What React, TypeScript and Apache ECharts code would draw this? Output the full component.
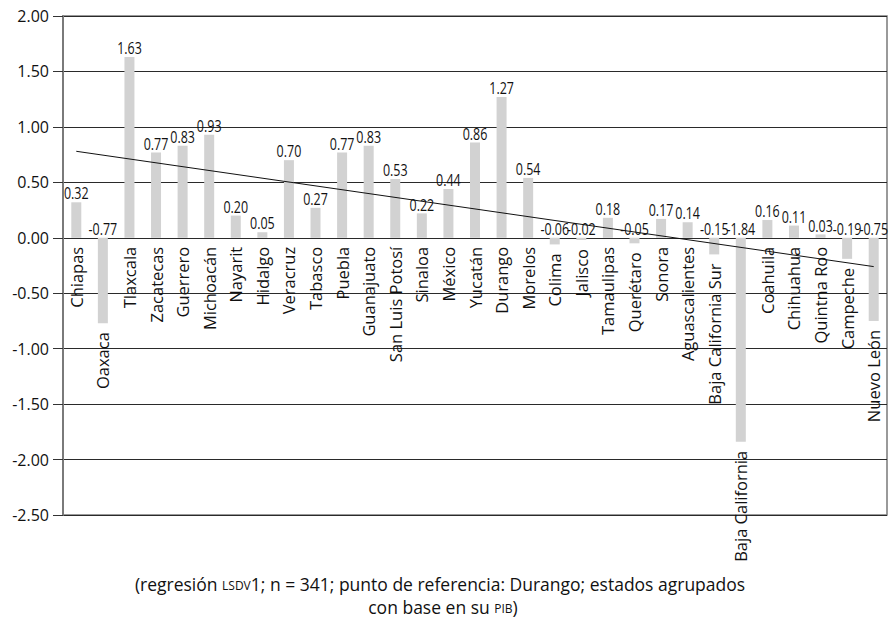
import React, { useEffect, useRef } from "react";
import * as echarts from "echarts";

const categories = [
  "Chiapas", "Oaxaca", "Tlaxcala", "Zacatecas", "Guerrero", "Michoacán", "Nayarit", "Hidalgo",
  "Veracruz", "Tabasco", "Puebla", "Guanajuato", "San Luis Potosí", "Sinaloa", "México", "Yucatán",
  "Durango", "Morelos", "Colima", "Jalisco", "Tamaulipas", "Querétaro", "Sonora", "Aguascalientes",
  "Baja California Sur", "Baja California", "Coahuila", "Chihuahua", "Quintna Roo", "Campeche", "Nuevo León",
];
const values = [
  0.32, -0.77, 1.63, 0.77, 0.83, 0.93, 0.2, 0.05, 0.7, 0.27, 0.77, 0.83, 0.53, 0.22, 0.44, 0.86,
  1.27, 0.54, -0.06, -0.02, 0.18, -0.05, 0.17, 0.14, -0.15, -1.84, 0.16, 0.11, 0.03, -0.19, -0.75,
];
const trendStart = 0.78;
const trendEnd = -0.26;
const yTicks = { min: -2.5, max: 2, interval: 0.5 };

export default function App() {
  const ref = useRef<HTMLDivElement>(null);
  useEffect(() => {
    document.body.style.margin = "0";
    const chart = echarts.init(ref.current!, null, { renderer: "svg" });
    const font = "'Open Sans', 'Noto Sans', sans-serif";
    const rich = {
      n: { fontSize: 17.5, fontFamily: font, fill: "#111", verticalAlign: "bottom" },
      sc: { fontSize: 12, fontFamily: font, fill: "#111", verticalAlign: "bottom", padding: [0, 0, 1.5, 0] },
    };
    chart.setOption({
      animation: false,
      grid: {
        left: 63, right: 3, top: 16, bottom: 103,
        show: true, borderColor: "#7a7a7a", borderWidth: 1.5,
      },
      graphic: [
        {
          type: "text",
          x: 440,
          y: 584,
          style: {
            text: "{n|(regresión }{sc|LSDV}{n|1; n = 341; punto de referencia: Durango; estados agrupados}",
            align: "center",
            verticalAlign: "middle",
            fill: "#111",
            rich,
          },
        },
        {
          type: "text",
          x: 443,
          y: 607,
          style: {
            text: "{n|con base en su }{sc|PIB}{n|)}",
            align: "center",
            verticalAlign: "middle",
            fill: "#111",
            rich,
          },
        },
      ],
      xAxis: {
        type: "category",
        data: categories,
        axisLine: { show: false },
        axisTick: { show: false },
        axisLabel: { show: false },
        splitLine: { show: false },
      },
      yAxis: {
        type: "value",
        min: yTicks.min,
        max: yTicks.max,
        interval: yTicks.interval,
        axisLine: { show: true, lineStyle: { color: "#7a7a7a", width: 2 } },
        axisTick: { show: true, length: 10, lineStyle: { color: "#333", width: 1 } },
        axisLabel: {
          formatter: (v: number) => v.toFixed(2),
          fontFamily: font,
          fontSize: 16,
          color: "#111",
          margin: 14,
        },
        splitLine: { show: true, lineStyle: { color: "#2a2a2a", width: 1.2 } },
      },
      series: [
        {
          type: "bar",
          data: values,
          barWidth: 10,
          itemStyle: { color: "#d2d2d2" },
          z: 2,
        },
        {
          type: "line",
          data: [[0, trendStart], [categories.length - 1, trendEnd]],
          symbol: "none",
          lineStyle: { color: "#111", width: 1 },
          z: 3,
        },
        {
          type: "custom",
          data: values.map((v, i) => [i, v]),
          z: 4,
          renderItem: (params: any, api: any) => {
            const i = api.value(0);
            const v = api.value(1);
            const top = api.coord([i, Math.max(0, v)]);
            const bot = api.coord([i, Math.min(0, v)]);
            return {
              type: "group",
              children: [
                {
                  type: "text",
                  x: top[0],
                  y: top[1] - 1,
                  scaleX: 0.78,
                  style: {
                    text: v.toFixed(2),
                    align: "center",
                    verticalAlign: "bottom",
                    fontFamily: font,
                    fontSize: 16,
                    fill: "#111",
                  },
                },
                {
                  type: "text",
                  x: bot[0],
                  y: bot[1] + 9,
                  rotation: Math.PI / 2,
                  style: {
                    text: categories[i],
                    align: "right",
                    verticalAlign: "middle",
                    fontFamily: font,
                    fontSize: 16.5,
                    fill: "#111",
                  },
                },
              ],
            };
          },
        },
      ],
    });
    return () => chart.dispose();
  }, []);
  return <div ref={ref} style={{ width: 890, height: 618 }} />;
}
